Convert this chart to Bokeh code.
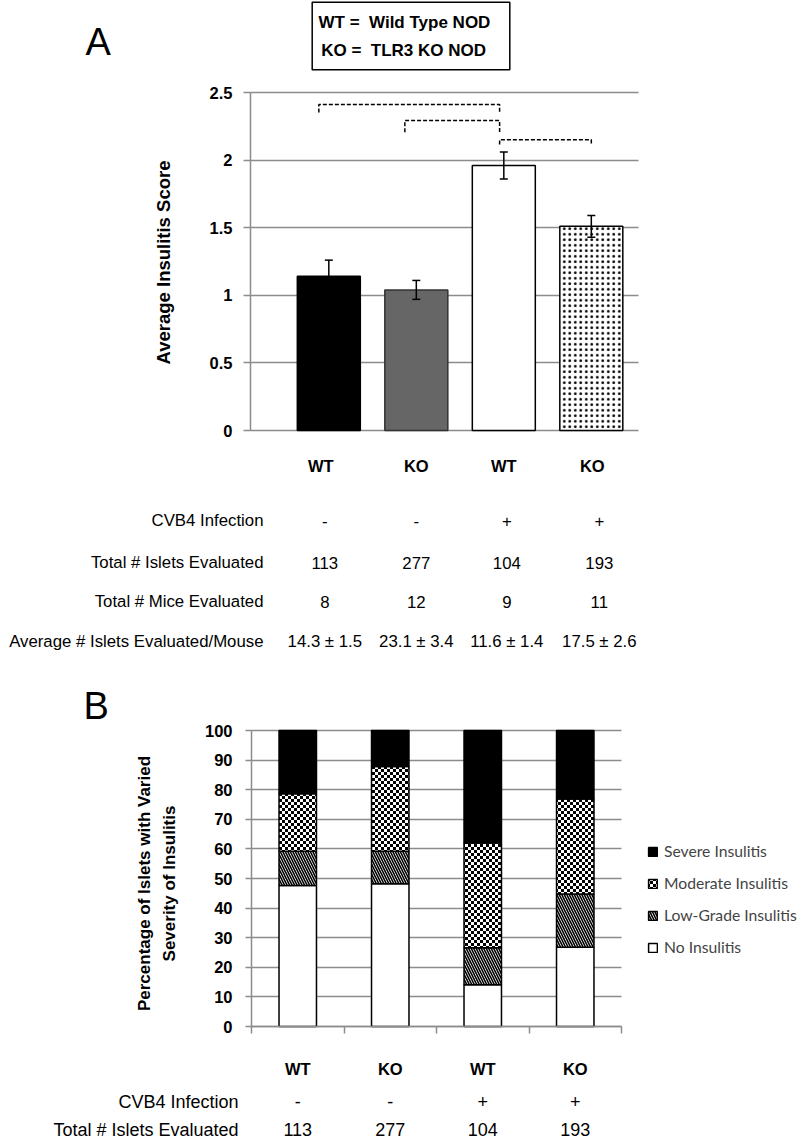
import math
from bokeh.plotting import figure
from bokeh.models import (Range1d, FixedTicker, Label, Whisker, TeeHead, ColumnDataSource,
                          Legend, LegendItem, CanvasTexture, LinearAxis, Grid)
from bokeh.layouts import column
from bokeh.core.properties import value
from bokeh.embed import file_html
from bokeh.resources import INLINE

# ---------------- data ----------------
groups = ["WT", "KO", "WT", "KO"]
infection = ["-", "-", "+", "+"]
islets_evaluated = ["113", "277", "104", "193"]
mice_evaluated = ["8", "12", "9", "11"]
islets_per_mouse = ["14.3 \u00b1 1.5", "23.1 \u00b1 3.4", "11.6 \u00b1 1.4", "17.5 \u00b1 2.6"]

score_mean = [1.14, 1.04, 1.96, 1.51]
score_err = [0.12, 0.07, 0.10, 0.08]
score_ticks = [0, 0.5, 1, 1.5, 2, 2.5]
score_tick_labels = ["0", "0.5", "1", "1.5", "2", "2.5"]

sig_from = [0, 1, 2]
sig_to = [2, 2, 3]

pct_no = [47.6, 48.2, 14.1, 26.8]
pct_low = [11.6, 11.0, 12.5, 18.0]
pct_moderate = [19.4, 28.6, 35.4, 32.1]
pct_severe = [21.4, 12.2, 38.0, 23.1]
pct_ticks = [0, 10, 20, 30, 40, 50, 60, 70, 80, 90, 100]
severity_names = ["No Insulitis", "Low-Grade Insulitis", "Moderate Insulitis", "Severe Insulitis"]

# ---------------- styles / geometry ----------------
ARIAL = "Liberation Sans"
LEGFONT = "Lato"
GRID = "#8c8c8c"
xs = [1, 2, 3, 4]
OX, OY = 0, 0            # observed page offset
W = 800
A_H, B_H = 670, 472
B_TOP = OY + A_H
HAS_CB = "cross_bounds" in Grid.properties()

# ================= Panel A =================
A_X0, A_LEFT, A_RIGHT, A_PPX = 0.105, 250, 638, 87.5
A_BOTTOM, A_PPY = 430, 135.2
def ax(px): return A_X0 + (px - A_LEFT) / A_PPX
def ay(py): return (A_BOTTOM - py) / A_PPY

pA = figure(width=W, height=A_H, x_range=Range1d(ax(OX), ax(OX + W)), y_range=Range1d(ay(OY + A_H), ay(OY)),
            x_axis_location=None, y_axis_location=None, toolbar_location=None, output_backend="svg",
            min_border=0, min_border_left=0, min_border_right=0, min_border_top=0, min_border_bottom=0)
pA.outline_line_color = None
pA.grid.visible = False

def style_axis(a, tick_out, standoff):
    a.major_tick_out = tick_out
    a.major_tick_in = 0
    a.minor_tick_line_color = None
    a.major_tick_line_color = GRID
    a.major_tick_line_width = 1.5
    a.axis_line_color = GRID
    a.axis_line_width = 1.5
    a.major_label_text_font = ARIAL
    a.major_label_text_font_style = "bold"
    a.major_label_text_font_size = "16.5px"
    a.major_label_text_color = "black"
    a.major_label_standoff = standoff

ya = LinearAxis(fixed_location=ax(A_LEFT), bounds=(0, 2.5), ticker=FixedTicker(ticks=score_ticks))
ya.major_label_overrides = {t: l for t, l in zip(score_ticks, score_tick_labels)}
style_axis(ya, 7, 11)
pA.add_layout(ya, "left")

def add_hgrid(p, ticks, lo, hi, x0, x1):
    if HAS_CB:
        g = Grid(dimension=1, ticker=FixedTicker(ticks=ticks), bounds=(lo, hi), cross_bounds=(x0, x1),
                 grid_line_color=GRID, grid_line_width=1.5)
        p.add_layout(g)
    else:
        p.segment(x0=[x0] * len(ticks), x1=[x1] * len(ticks), y0=ticks, y1=ticks,
                  line_color=GRID, line_width=1.5, level="underlay")

add_hgrid(pA, score_ticks, 0, 2.5, ax(A_LEFT), ax(A_RIGHT))

bar_fill = ["black", "#666666", "white", "white"]
bar_line = ["black", "#333333", "black", "black"]
bar_hatch = ["blank", "blank", "blank", "dot"]
srcA = ColumnDataSource(dict(x=xs, top=score_mean, fill=bar_fill, line=bar_line, hatch=bar_hatch))
pA.vbar(x="x", top="top", width=0.72, source=srcA, fill_color="fill", line_color="line",
        line_width=1.5, hatch_pattern="hatch", hatch_color="black", hatch_scale=5.5, hatch_weight=0.8)

errA = ColumnDataSource(dict(x=xs,
                             upper=[m + e for m, e in zip(score_mean, score_err)],
                             lower=[m - e for m, e in zip(score_mean, score_err)]))
pA.add_layout(Whisker(base="x", upper="upper", lower="lower", source=errA, level="overlay",
                      line_color="black", line_width=1.5,
                      upper_head=TeeHead(size=8, line_color="black", line_width=1.5),
                      lower_head=TeeHead(size=8, line_color="black", line_width=1.5)))

# significance brackets
br_y = [2.411, 2.293, 2.150]
br_drop = [0.059, 0.087, 0.035]
br_loff = [-0.114, -0.131, -0.048]
br_roff = [-0.048, -0.048, 0.0]
bxs, bys = [], []
for k in range(len(sig_from)):
    xl = xs[sig_from[k]] + br_loff[k]
    xr = xs[sig_to[k]] + br_roff[k]
    bxs.append([xl, xl, xr, xr])
    bys.append([br_y[k] - br_drop[k], br_y[k], br_y[k], br_y[k] - br_drop[k]])
pA.multi_line(xs=bxs, ys=bys, line_color="black", line_width=1.5, line_dash="4 2")

# key box
pA.quad(left=[ax(311.7)], right=[ax(509.3)], top=[ay(max(1.7, OY + 1))], bottom=[ay(69.3)],
        fill_color="white", line_color="black", line_width=1.5)
def lab(p, x, y, text, size, bold=False, align="center", baseline="middle", angle=0.0):
    p.add_layout(Label(x=x, y=y, text=text, text_align=align, text_baseline=baseline, angle=angle,
                       text_font=ARIAL, text_font_style="bold" if bold else "normal",
                       text_font_size=size, text_color="black"))
lab(pA, ax(318), ay(22), "WT =\u00a0 Wild Type NOD", "17px", bold=True, align="left")
lab(pA, ax(320.7), ay(50), "KO =\u00a0 TLR3 KO NOD", "17px", bold=True, align="left")
lab(pA, ax(85), ay(41.7), "A", "38px", align="left", baseline="alphabetic")
lab(pA, ax(163), ay(262), "Average Insulitis Score", "18.5px", bold=True, angle=math.pi / 2)

# category labels & table
hdr_off = [-8, 0, 0, 1]
row_off = [-4, 0, 3, 8]
for i in range(4):
    lab(pA, xs[i] + hdr_off[i] / A_PPX, ay(465), groups[i], "16.5px", bold=True)
rowsA = [("CVB4 Infection", infection, 520),
         ("Total # Islets Evaluated", islets_evaluated, 562),
         ("Total # Mice Evaluated", mice_evaluated, 601),
         ("Average # Islets Evaluated/Mouse", islets_per_mouse, 641)]
for name, vals, py in rowsA:
    lab(pA, ax(263), ay(py), name, "16.8px", align="right")
    for i in range(4):
        lab(pA, xs[i] + row_off[i] / A_PPX, ay(py), vals[i], "16.8px")

# ================= Panel B =================
B_LEFT, B_RIGHT, B_PPX = 251, 621, 92.5
B_BOTTOM, B_PPY = 1026, 2.96
def bx(px): return 0.5 + (px - B_LEFT) / B_PPX
def by(py): return (B_BOTTOM - py) / B_PPY

pB = figure(width=W, height=B_H, x_range=Range1d(bx(OX), bx(OX + W)), y_range=Range1d(by(B_TOP + B_H), by(B_TOP)),
            x_axis_location=None, y_axis_location=None, toolbar_location=None, output_backend="svg",
            min_border=0, min_border_left=0, min_border_right=0, min_border_top=0, min_border_bottom=0)
pB.outline_line_color = None
pB.grid.visible = False

yb = LinearAxis(fixed_location=bx(B_LEFT), bounds=(0, 100), ticker=FixedTicker(ticks=pct_ticks))
style_axis(yb, 6, 13)
pB.add_layout(yb, "left")

cat_edges = [0.5, 1.5, 2.5, 3.5, 4.5]
xb = LinearAxis(fixed_location=0, bounds=(0.5, 4.5), ticker=FixedTicker(ticks=cat_edges))
style_axis(xb, 7, 0)
xb.major_label_overrides = {t: "" for t in cat_edges}
pB.add_layout(xb, "below")

add_hgrid(pB, pct_ticks, 0, 100, bx(B_LEFT), bx(B_RIGHT))

# checkerboard texture: set the tile size explicitly, then draw two squares
checker = CanvasTexture(code="""
var n = 6, s = 3;
ctx.canvas.width = n;
ctx.canvas.height = n;
ctx.fillStyle = "#ffffff";
ctx.fillRect(0, 0, n, n);
ctx.fillStyle = "#000000";
ctx.fillRect(0, 0, s, s);
ctx.fillRect(s, s, s, s);
""")
srcB = ColumnDataSource(dict(x=xs, no=pct_no, low=pct_low, mod=pct_moderate, sev=pct_severe))
rends = pB.vbar_stack(["no", "low", "mod", "sev"], x="x", width=0.405, source=srcB,
                      fill_color=["white", "white", "white", "black"], line_color="black", line_width=1.5,
                      hatch_pattern=[value("blank"), value("left_diagonal_line"), value("checker"), value("blank")],
                      hatch_extra={"checker": checker}, hatch_color="black",
                      hatch_scale=[12, 5, 6, 12], hatch_weight=[1, 1.6, 1.5, 1])

legend = Legend(items=[LegendItem(label=severity_names[k], renderers=[rends[k]]) for k in [3, 2, 1, 0]],
                location=(647 - OX, B_TOP + B_H - 957), orientation="vertical", glyph_width=11, glyph_height=11,
                label_standoff=6, spacing=12, padding=0, margin=0, border_line_color=None,
                background_fill_alpha=0, label_text_font=LEGFONT, label_text_font_size="15.7px",
                label_height=20)
pB.add_layout(legend)

lab(pB, bx(83), by(705), "B", "38px", align="left", baseline="alphabetic")
lab(pB, bx(144), by(883), "Percentage of Islets with Varied", "17px", bold=True, angle=math.pi / 2)
lab(pB, bx(169), by(883), "Severity of Insulitis", "17px", bold=True, angle=math.pi / 2)
for i in range(4):
    lab(pB, xs[i], by(1068), groups[i], "16.5px", bold=True)
rowsB = [("CVB4 Infection", infection, 1101), ("Total # Islets Evaluated", islets_evaluated, 1129)]
for name, vals, py in rowsB:
    lab(pB, bx(238), by(py), name, "18px", align="right")
    for i in range(4):
        lab(pB, xs[i], by(py), vals[i], "18px")

layout = column(pA, pB, spacing=0)
open("out.html", "w").write(file_html(layout, INLINE))
